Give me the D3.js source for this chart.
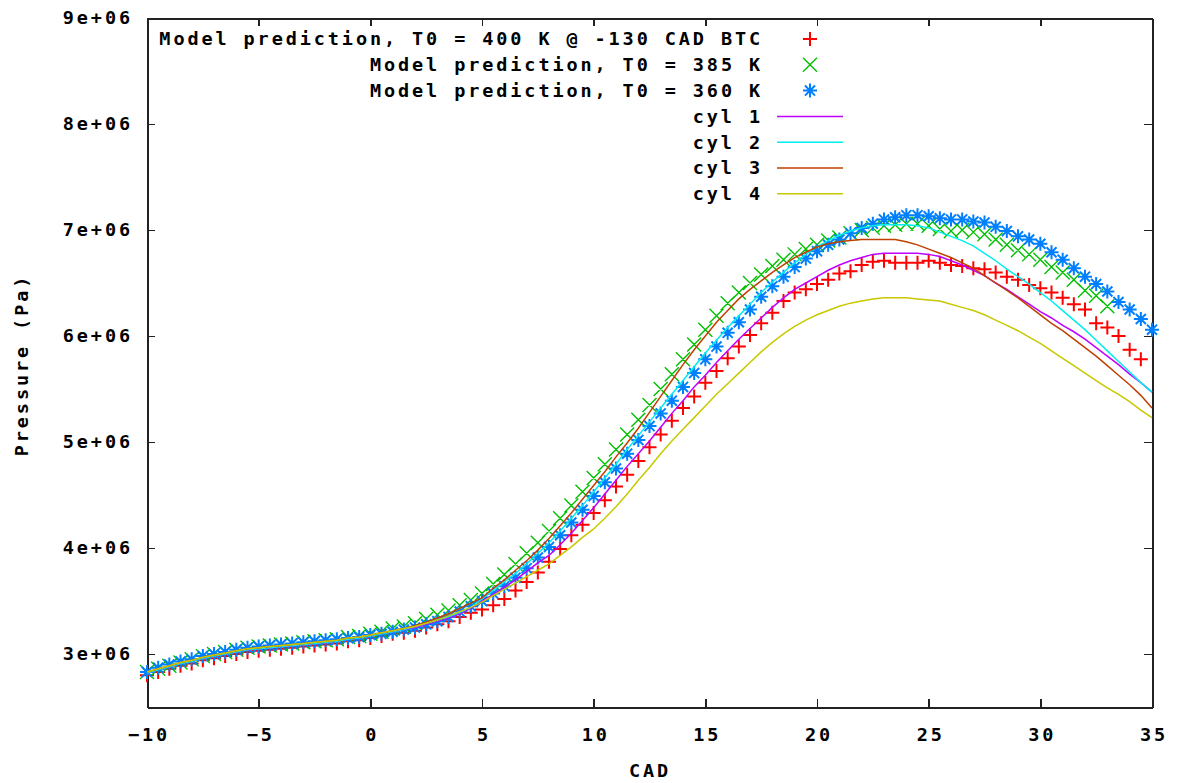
<!DOCTYPE html>
<meta charset="utf-8">
<style>
body { margin: 0; background: #fff; }
svg text {
  font-family: "DejaVu Sans Mono", "Liberation Mono", monospace;
  font-weight: bold;
  font-size: 18.5px;
  letter-spacing: 2.9px;
  fill: #000;
}
.axis path,
.axis line {
  fill: none;
  stroke: #222;
  shape-rendering: crispEdges;
}
.axis path { stroke-width: 2px; }
.axis line { stroke-width: 1.5px; }
.curve { fill: none; stroke-width: 1.5px; }
.pts { fill: none; }
</style>
<body>
<div id="chart"></div>
<script src="https://cdn.jsdelivr.net/npm/d3@7/dist/d3.min.js"></script>
<script>
// crank angle grid, degrees (0.5 CAD steps)
var cad = [-10,-9.5,-9,-8.5,-8,-7.5,-7,-6.5,-6,-5.5,-5,-4.5,-4,-3.5,-3,-2.5,-2,-1.5,-1,-0.5,
  0,0.5,1,1.5,2,2.5,3,3.5,4,4.5,5,5.5,6,6.5,7,7.5,8,8.5,9,9.5,10,10.5,11,11.5,12,12.5,13,13.5,14,14.5,
  15,15.5,16,16.5,17,17.5,18,18.5,19,19.5,20,20.5,21,21.5,22,22.5,23,23.5,24,24.5,25,25.5,26,26.5,27,27.5,
  28,28.5,29,29.5,30,30.5,31,31.5,32,32.5,33,33.5,34,34.5,35];

// pressures in 1e6 Pa
var model400 = [2.80,2.83,2.86,2.89,2.91,2.94,2.96,2.98,3.00,3.02,3.03,3.04,3.05,3.06,3.07,3.08,3.09,3.10,3.12,3.13,
  3.15,3.17,3.19,3.20,3.22,3.25,3.28,3.31,3.35,3.39,
  3.42,3.46,3.52,3.60,3.68,3.77,3.87,3.99,4.12,4.22,4.33,4.45,4.58,4.69,4.82,4.95,5.07,5.20,5.32,5.43,
  5.56,5.67,5.79,5.90,6.01,6.12,6.22,6.33,6.41,6.44,6.49,6.53,6.59,6.61,6.67,6.70,6.71,6.69,6.69,6.69,
  6.71,6.69,6.67,6.66,6.64,6.63,6.60,6.56,6.53,6.48,6.45,6.41,6.36,6.30,6.25,6.12,6.08,6.00,5.87,5.78];
var model385 = [2.83,2.86,2.89,2.92,2.95,2.98,3.00,3.02,3.04,3.06,3.07,3.08,3.09,3.10,3.11,3.12,3.13,3.14,3.16,3.17,
  3.19,3.21,3.24,3.26,3.29,3.33,3.37,3.41,3.46,3.51,
  3.57,3.66,3.75,3.85,3.95,4.05,4.16,4.28,4.40,4.53,4.66,4.79,4.93,5.07,5.21,5.35,5.50,5.64,5.78,5.92,
  6.06,6.19,6.31,6.41,6.50,6.58,6.66,6.72,6.77,6.82,6.86,6.90,6.93,6.97,7.00,7.02,7.04,7.05,7.06,7.06,
  7.04,7.01,6.99,7.00,6.98,6.96,6.91,6.86,6.81,6.77,6.72,6.65,6.60,6.53,6.43,6.38,6.28];
var model360 = [2.83,2.87,2.90,2.93,2.95,2.98,3.00,3.02,3.04,3.06,3.07,3.08,3.09,3.10,3.11,3.12,3.13,3.14,3.15,3.16,
  3.18,3.19,3.21,3.23,3.25,3.28,3.31,3.35,3.40,3.45,
  3.50,3.57,3.64,3.72,3.81,3.91,4.01,4.12,4.24,4.36,4.49,4.62,4.75,4.89,5.02,5.15,5.27,5.39,5.52,5.65,
  5.78,5.90,6.03,6.13,6.25,6.37,6.47,6.56,6.65,6.73,6.80,6.86,6.91,6.97,7.02,7.06,7.10,7.12,7.14,7.14,
  7.13,7.11,7.10,7.10,7.08,7.07,7.03,6.99,6.94,6.91,6.87,6.79,6.72,6.64,6.56,6.49,6.42,6.32,6.25,6.16,6.06];

var cyl1 = [2.82,2.85,2.88,2.91,2.93,2.96,2.98,3.00,3.02,3.04,3.05,3.06,3.07,3.08,3.09,3.10,3.11,3.12,3.14,3.15,
  3.17,3.19,3.21,3.23,3.25,3.28,3.31,3.34,3.38,3.43,
  3.50,3.56,3.63,3.70,3.78,3.86,3.93,4.03,4.14,4.26,4.38,4.51,4.64,4.77,4.89,5.01,5.14,5.27,5.39,5.52,
  5.63,5.75,5.86,5.97,6.07,6.17,6.27,6.36,6.44,6.50,6.56,6.62,6.67,6.71,6.74,6.77,6.78,6.78,6.78,6.78,
  6.77,6.75,6.71,6.67,6.62,6.57,6.50,6.44,6.37,6.30,6.23,6.17,6.10,6.04,5.97,5.89,5.81,5.73,5.64,5.56,5.47];
var cyl2 = [2.82,2.85,2.88,2.91,2.93,2.96,2.98,3.00,3.02,3.04,3.05,3.06,3.07,3.08,3.09,3.10,3.11,3.12,3.14,3.15,
  3.17,3.19,3.21,3.23,3.26,3.29,3.32,3.35,3.39,3.44,
  3.52,3.60,3.68,3.76,3.85,3.95,4.05,4.16,4.28,4.40,4.53,4.66,4.79,4.93,5.06,5.19,5.32,5.45,5.58,5.71,
  5.84,5.96,6.08,6.19,6.30,6.41,6.51,6.60,6.69,6.77,6.84,6.90,6.95,6.99,7.02,7.04,7.05,7.05,7.05,7.04,
  7.02,6.98,6.94,6.90,6.85,6.78,6.71,6.63,6.56,6.49,6.41,6.33,6.24,6.15,6.06,5.96,5.86,5.76,5.66,5.56,5.47];
var cyl3 = [2.83,2.86,2.89,2.92,2.94,2.97,2.99,3.01,3.03,3.05,3.06,3.07,3.08,3.09,3.10,3.11,3.12,3.13,3.15,3.16,
  3.18,3.20,3.22,3.24,3.27,3.30,3.34,3.38,3.43,3.48,
  3.53,3.62,3.70,3.79,3.88,3.98,4.09,4.21,4.33,4.46,4.59,4.72,4.86,4.99,5.13,5.28,5.43,5.58,5.73,5.87,
  6.00,6.13,6.24,6.35,6.44,6.52,6.60,6.67,6.74,6.79,6.84,6.87,6.89,6.90,6.91,6.91,6.91,6.91,6.89,6.86,
  6.82,6.78,6.74,6.69,6.64,6.57,6.50,6.43,6.36,6.28,6.20,6.12,6.05,5.97,5.89,5.81,5.72,5.63,5.54,5.44,5.32];
var cyl4 = [2.83,2.86,2.89,2.92,2.94,2.97,2.99,3.01,3.03,3.05,3.06,3.07,3.08,3.09,3.10,3.11,3.12,3.13,3.15,3.16,
  3.18,3.20,3.22,3.24,3.26,3.29,3.32,3.36,3.40,3.44,
  3.49,3.55,3.61,3.67,3.73,3.79,3.85,3.93,4.01,4.10,4.18,4.28,4.39,4.51,4.64,4.76,4.89,5.01,5.12,5.23,
  5.34,5.45,5.55,5.65,5.75,5.85,5.94,6.02,6.09,6.15,6.20,6.24,6.28,6.31,6.33,6.35,6.36,6.36,6.36,6.35,
  6.34,6.33,6.30,6.27,6.24,6.20,6.15,6.10,6.05,5.99,5.93,5.86,5.79,5.72,5.65,5.58,5.51,5.45,5.38,5.30,5.23];

var xTicks = [-10,-5,0,5,10,15,20,25,30,35];
var yTicks = [3,4,5,6,7,8,9];
var yTickLabels = ["3e+06","4e+06","5e+06","6e+06","7e+06","8e+06","9e+06"];

var pointSeries = [
  {name: "Model prediction, T0 = 400 K @ -130 CAD BTC", values: model400, color: "#ff0000", shape: "plus"},
  {name: "Model prediction, T0 = 385 K", values: model385, color: "#00c000", shape: "cross"},
  {name: "Model prediction, T0 = 360 K", values: model360, color: "#0080ff", shape: "star"}
];
var lineSeries = [
  {name: "cyl 1", values: cyl1, color: "#c000ff"},
  {name: "cyl 2", values: cyl2, color: "#00eeee"},
  {name: "cyl 3", values: cyl3, color: "#c04000"},
  {name: "cyl 4", values: cyl4, color: "#c8c800"}
];

var W = 1179, H = 783,
    margin = {top: 18, right: 27, bottom: 76, left: 147},
    width = W - margin.left - margin.right,
    height = H - margin.top - margin.bottom;

var x = d3.scaleLinear().domain([-10, 35]).range([0, width]),
    y = d3.scaleLinear().domain([2.5, 9]).range([height, 0]);

var svg = d3.select("#chart").append("svg")
    .attr("width", W).attr("height", H)
  .append("g")
    .attr("transform", "translate(" + margin.left + "," + margin.top + ")");

function zip(vals) {
  return vals.map(function(v, i) { return [cad[i], v]; });
}

var R = 7;
function marker(shape, px, py) {
  var p = "";
  if (shape === "plus" || shape === "star")
    p += "M" + (px - R) + "," + py + "h" + 2 * R + "M" + px + "," + (py - R) + "v" + 2 * R;
  if (shape === "cross" || shape === "star") {
    var r = shape === "star" ? R * 0.72 : R;
    p += "M" + (px - r) + "," + (py - r) + "l" + 2 * r + "," + 2 * r +
         "M" + (px - r) + "," + (py + r) + "l" + 2 * r + "," + (-2 * r);
  }
  return p;
}

// axes (frame + inward ticks)
svg.append("g").attr("class", "axis")
    .attr("transform", "translate(0," + height + ")")
    .call(d3.axisBottom(x).tickValues(xTicks).tickSizeInner(-8).tickSizeOuter(0).tickPadding(21))
    .selectAll("text").attr("dx", "1.5");
svg.append("g").attr("class", "axis")
    .call(d3.axisTop(x).tickValues(xTicks).tickSizeInner(-8).tickSizeOuter(0).tickFormat(""));
svg.append("g").attr("class", "axis")
    .call(d3.axisLeft(y).tickValues(yTicks).tickSizeInner(-8).tickSizeOuter(0).tickPadding(14)
      .tickFormat(function(d, i) { return yTickLabels[i]; }));
svg.append("g").attr("class", "axis")
    .attr("transform", "translate(" + width + ",0)")
    .call(d3.axisRight(y).tickValues(yTicks).tickSizeInner(-8).tickSizeOuter(0).tickFormat(""));

// model points
pointSeries.forEach(function(s) {
  svg.append("path")
      .attr("class", "pts")
      .attr("stroke", s.color)
      .attr("stroke-width", s.shape === "cross" ? 1.4 : 2)
      .attr("d", zip(s.values).map(function(d) {
        return marker(s.shape, x(d[0]), y(d[1]));
      }).join(""));
});

// measured cylinder traces
var line = d3.line().x(function(d) { return x(d[0]); }).y(function(d) { return y(d[1]); });
lineSeries.forEach(function(s) {
  svg.append("path")
      .attr("class", "curve")
      .attr("stroke", s.color)
      .attr("d", line(zip(s.values)));
});

// legend
var legendRight = 763 - margin.left, rowY = 39 - margin.top, rowH = 25.8;
var legend = svg.append("g");
pointSeries.concat(lineSeries).forEach(function(s, i) {
  var ly = rowY + i * rowH;
  legend.append("text")
      .attr("x", legendRight).attr("y", ly).attr("dy", "0.35em")
      .attr("text-anchor", "end")
      .text(s.name);
  if (s.shape) {
    legend.append("path")
        .attr("class", "pts")
        .attr("stroke", s.color)
        .attr("stroke-width", s.shape === "cross" ? 1.4 : 2)
        .attr("d", marker(s.shape, 810 - margin.left, ly));
  } else {
    legend.append("line")
        .attr("x1", 777 - margin.left).attr("x2", 843 - margin.left)
        .attr("y1", ly).attr("y2", ly)
        .attr("stroke", s.color).attr("stroke-width", 1.5);
  }
});

// axis titles
svg.append("text")
    .attr("x", 650 - margin.left).attr("y", 771 - margin.top).attr("dy", "0.35em")
    .attr("text-anchor", "middle")
    .text("CAD");
svg.append("text")
    .attr("transform", "translate(" + (22 - margin.left) + "," + (365 - margin.top) + ") rotate(-90)")
    .attr("dy", "0.35em")
    .attr("text-anchor", "middle")
    .text("Pressure (Pa)");
</script>
